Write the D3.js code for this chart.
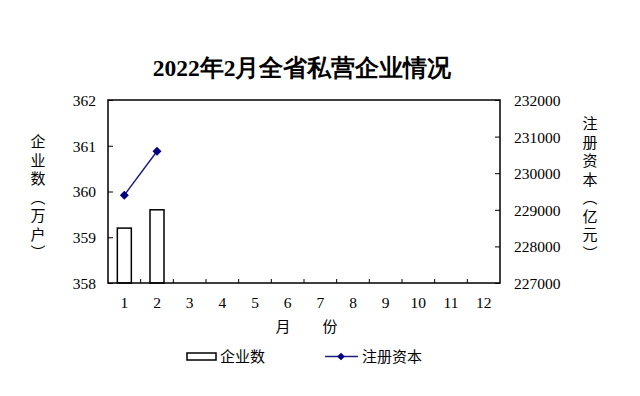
<!DOCTYPE html>
<html><head><meta charset="utf-8">
<script src="https://cdn.jsdelivr.net/npm/d3@7"></script>
<style>body{margin:0;background:#fff}svg{display:block}</style>
</head><body>
<script>
const months = ["1","2","3","4","5","6","7","8","9","10","11","12"];
const enterprises = [359.2, 359.6];          // 企业数（万户）
const capital = [229400, 230600];            // 注册资本（亿元）
const leftTicks = [358, 359, 360, 361, 362];
const rightTicks = [227000, 228000, 229000, 230000, 231000, 232000];

const W = 640, H = 396;
const m = {left: 108, right: 500, top: 100, bottom: 283};
const serif = "'Liberation Serif','Times New Roman',serif";
const cjk = "'Noto Sans CJK SC','Noto Sans',sans-serif";

const svg = d3.select("body").append("svg").attr("width", W).attr("height", H);

const x = d3.scaleBand().domain(months).range([m.left, m.right]);
const yL = d3.scaleLinear().domain([358, 362]).range([m.bottom, m.top]);
const yR = d3.scaleLinear().domain([227000, 232000]).range([m.bottom, m.top]);

// Title
svg.append("text").attr("x", 302).attr("y", 76).attr("text-anchor", "middle")
  .style("font-family", serif).style("font-size", "23.5px").style("font-weight", "bold")
  .text("2022年2月全省私营企业情况");

// Bars
svg.append("g").selectAll("rect").data(enterprises).join("rect")
  .attr("x", (d, i) => x(months[i]) + x.bandwidth() / 2 - 7)
  .attr("width", 14)
  .attr("y", d => yL(d))
  .attr("height", d => m.bottom - yL(d))
  .attr("fill", "#fff").attr("stroke", "#000").attr("stroke-width", 1.5);

// Axes
const axL = d3.axisLeft(yL).tickValues(leftTicks).tickSizeInner(-5).tickSizeOuter(0).tickPadding(12).tickFormat(d3.format("d"));
const gL = svg.append("g").attr("transform", `translate(${m.left},0)`).call(axL);
const axR = d3.axisRight(yR).tickValues(rightTicks).tickSizeInner(-5).tickSizeOuter(0).tickPadding(14).tickFormat(d3.format("d"));
const gR = svg.append("g").attr("transform", `translate(${m.right},0)`).call(axR);
const axB = d3.axisBottom(x).tickSize(0).tickPadding(14);
const gB = svg.append("g").attr("transform", `translate(0,${m.bottom})`).call(axB);
[gL, gR, gB].forEach(g => {
  g.selectAll("text").style("font-family", serif).style("font-size", "15.5px").attr("fill", "#000");
  g.select(".domain").remove();
  g.selectAll("line").attr("stroke", "#000").attr("stroke-width", 1);
});
gL.selectAll("text").attr("dy", "0.35em");
gR.selectAll("text").attr("dy", "0.35em");
// category boundary ticks (inward)
svg.append("g").selectAll("line").data(months.slice(1)).join("line")
  .attr("x1", d => x(d)).attr("x2", d => x(d))
  .attr("y1", m.bottom).attr("y2", m.bottom - 4)
  .attr("stroke", "#000").attr("stroke-width", 1);

// Frame
svg.append("rect").attr("x", m.left).attr("y", m.top)
  .attr("width", m.right - m.left).attr("height", m.bottom - m.top)
  .attr("fill", "none").attr("stroke", "#000").attr("stroke-width", 1.5);

// Line
const line = d3.line().x((d, i) => x(months[i]) + x.bandwidth() / 2).y(d => yR(d));
svg.append("path").datum(capital).attr("d", line)
  .attr("fill", "none").attr("stroke", "#1f1f7a").attr("stroke-width", 1.5);
svg.append("g").selectAll("path").data(capital).join("path")
  .attr("d", d3.symbol().type(d3.symbolSquare).size(40))
  .attr("transform", (d, i) => `translate(${x(months[i]) + x.bandwidth() / 2},${yR(d)}) rotate(45)`)
  .attr("fill", "#000080");

// Vertical axis titles
function vtext(str, cx, y0) {
  svg.append("text").attr("x", cx).attr("y", y0)
    .style("writing-mode", "vertical-rl").style("text-orientation", "upright")
    .style("letter-spacing", "3.5px")
    .style("font-family", cjk).style("font-size", "15px").text(str);
}
vtext("企业数（万户）", 38, 134);
vtext("注册资本（亿元）", 590, 116);

// X axis title
svg.append("text").attr("x", 283).attr("y", 332).attr("text-anchor", "middle")
  .style("font-family", cjk).style("font-size", "15px").text("月");
svg.append("text").attr("x", 330).attr("y", 332).attr("text-anchor", "middle")
  .style("font-family", cjk).style("font-size", "15px").text("份");

// Legend
svg.append("rect").attr("x", 187).attr("y", 353).attr("width", 29).attr("height", 7)
  .attr("fill", "#fff").attr("stroke", "#000").attr("stroke-width", 1.5);
svg.append("text").attr("x", 220).attr("y", 362).style("font-family", cjk).style("font-size", "15px").text("企业数");
svg.append("line").attr("x1", 325).attr("x2", 358).attr("y1", 356.5).attr("y2", 356.5)
  .attr("stroke", "#1f1f7a").attr("stroke-width", 1.5);
svg.append("path").attr("d", d3.symbol().type(d3.symbolSquare).size(30)())
  .attr("transform", "translate(341,356.5) rotate(45)").attr("fill", "#000080");
svg.append("text").attr("x", 362).attr("y", 362).style("font-family", cjk).style("font-size", "15px").text("注册资本");
</script>
</body></html>
